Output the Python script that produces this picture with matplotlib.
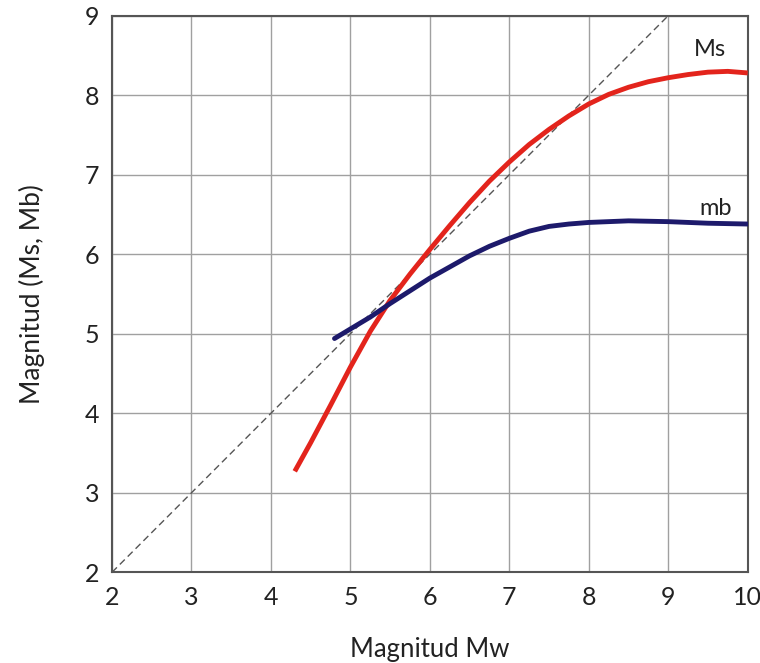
import matplotlib
matplotlib.use("Agg")
import matplotlib.pyplot as plt

# Data
ms_x = [4.3, 4.5, 4.75, 5.0, 5.25, 5.5, 5.75, 6.0, 6.25, 6.5, 6.75, 7.0, 7.25, 7.5, 7.75, 8.0, 8.25, 8.5, 8.75, 9.0, 9.25, 9.5, 9.75, 10.0]
ms_y = [3.27, 3.63, 4.10, 4.58, 5.03, 5.42, 5.75, 6.06, 6.36, 6.65, 6.92, 7.16, 7.38, 7.57, 7.74, 7.89, 8.01, 8.10, 8.17, 8.22, 8.26, 8.29, 8.30, 8.28]
mb_x = [4.8, 5.0, 5.25, 5.5, 5.75, 6.0, 6.25, 6.5, 6.75, 7.0, 7.25, 7.5, 7.75, 8.0, 8.5, 9.0, 9.5, 10.0]
mb_y = [4.94, 5.06, 5.21, 5.38, 5.54, 5.70, 5.84, 5.98, 6.10, 6.20, 6.29, 6.35, 6.38, 6.40, 6.42, 6.41, 6.39, 6.38]
ref_x = [2, 9]
ref_y = [2, 9]
x_ticks = [2, 3, 4, 5, 6, 7, 8, 9, 10]
y_ticks = [2, 3, 4, 5, 6, 7, 8, 9]

plt.rcParams['font.family'] = ['Lato', 'DejaVu Sans']

fig = plt.figure(figsize=(7.6, 6.63), dpi=100)
ax = fig.add_axes([112/760, 1-572.3/663, (747.7-112)/760, (572.3-15.7)/663])

ax.plot(ref_x, ref_y, color='#555555', lw=1.0, ls=(0, (5, 3)), zorder=2)
ax.plot(ms_x, ms_y, color='#e3241c', lw=3.5, solid_capstyle='butt', solid_joinstyle='round', zorder=3)
ax.plot(mb_x, mb_y, color='#1d1a6b', lw=3.5, solid_capstyle='round', solid_joinstyle='round', zorder=3)

ax.text(9.53, 8.57, 'Ms', fontsize=17, ha='center', va='center', color='#222222')
ax.text(9.6, 6.58, 'mb', fontsize=17, ha='center', va='center', color='#222222')

ax.set_xlim(2, 10)
ax.set_ylim(2, 9)
ax.set_xticks(x_ticks)
ax.set_yticks(y_ticks)
ax.grid(True, color='#a0a0a0', lw=1.0, zorder=0)
ax.set_axisbelow(True)
ax.tick_params(length=0, labelsize=18, pad=9, colors='#222222')
ax.tick_params(axis='x', pad=10)
for s in ax.spines.values():
    s.set_color('#555555')
    s.set_linewidth(1.5)

ax.set_xlabel('Magnitud Mw', fontsize=18.5, color='#222222', labelpad=20)
ax.set_ylabel('Magnitud (Ms, Mb)', fontsize=19, color='#222222', labelpad=29)

fig.savefig('out.png', dpi=100)
